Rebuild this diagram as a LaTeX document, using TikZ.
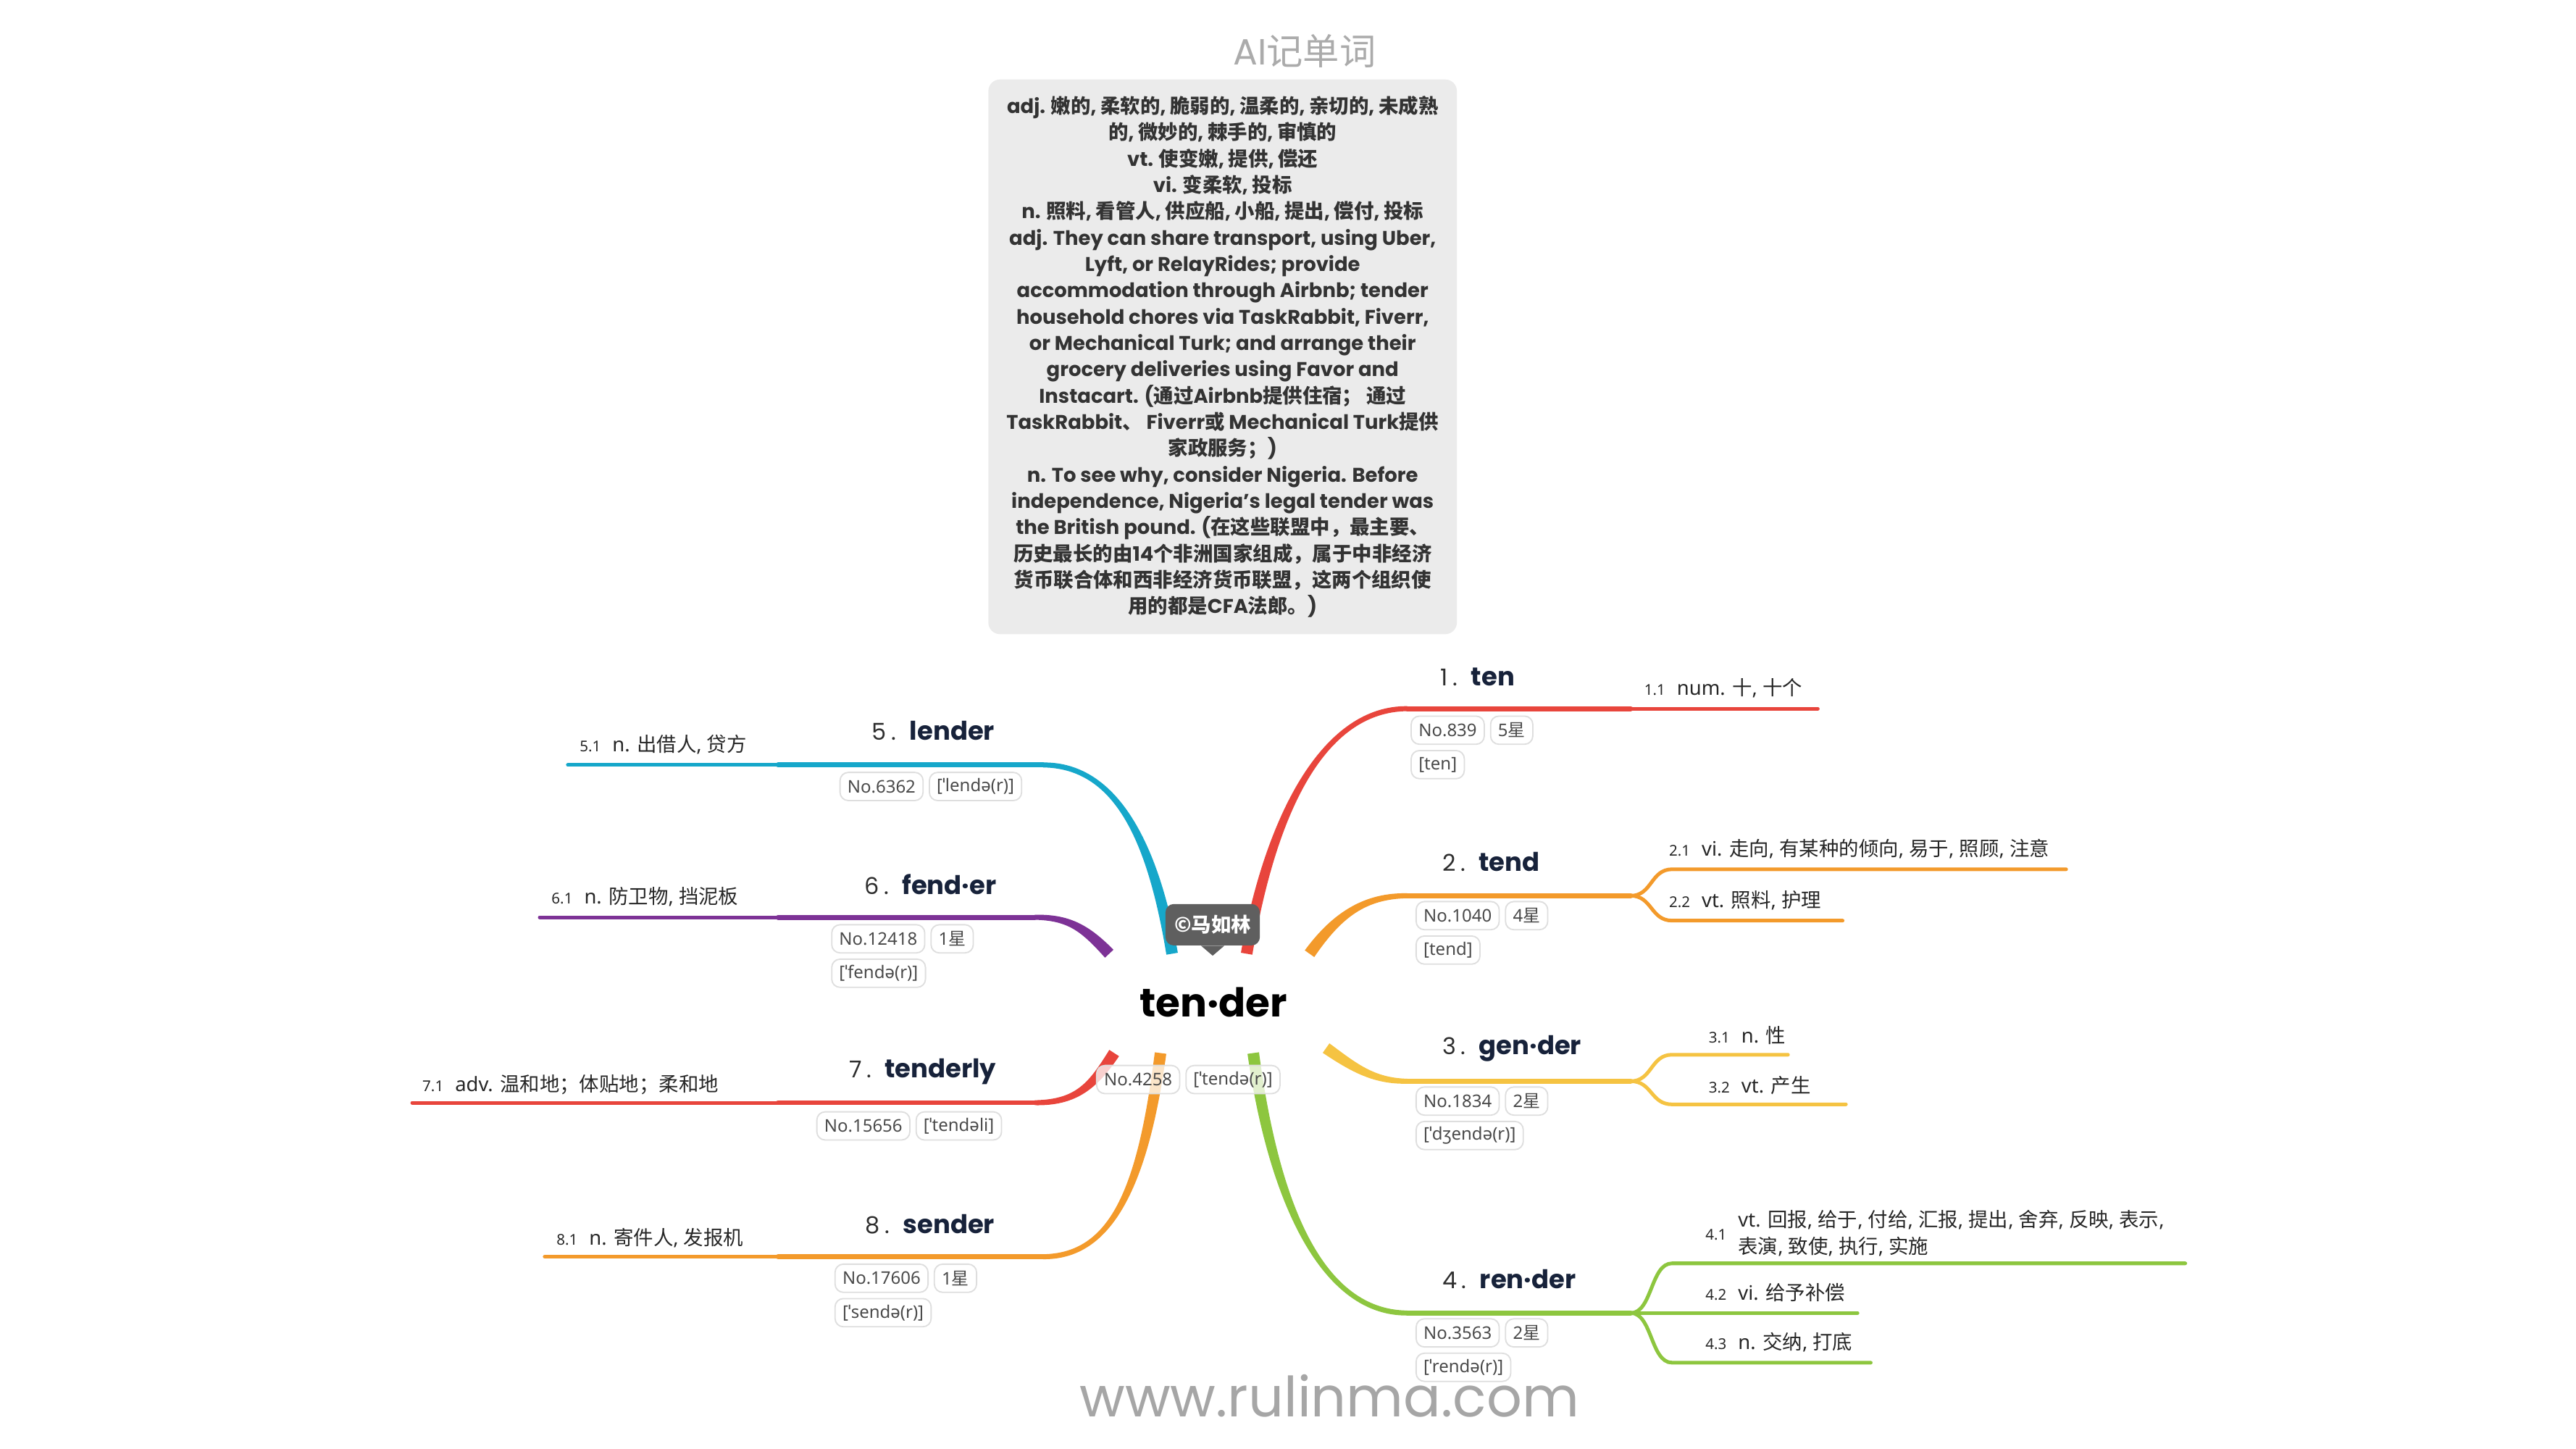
\documentclass[tikz,border=0pt]{standalone}
\usepackage{fontspec}
\setmainfont{Poppins}
\newfontfamily\cjk{Noto Sans CJK SC}
\newfontfamily\tagfont{Noto Sans}
\usetikzlibrary{positioning,calc}

% chinese characters go to the cjk font
\XeTeXinterchartokenstate=1
\makeatletter
\count@="3000 \loop \XeTeXcharclass\count@=1 \advance\count@ 1 \ifnum\count@<"3040 \repeat
\count@="4E00 \loop \XeTeXcharclass\count@=1 \advance\count@ 1 \ifnum\count@<"A000 \repeat
\count@="FF00 \loop \XeTeXcharclass\count@=1 \advance\count@ 1 \ifnum\count@<"FFF0 \repeat
\makeatother
\XeTeXinterchartoks 0 1 = {\begingroup\cjk}
\XeTeXinterchartoks 2 1 = {\begingroup\cjk}
\XeTeXinterchartoks 3 1 = {\begingroup\cjk}
\XeTeXinterchartoks 4095 1 = {\begingroup\cjk}
\XeTeXinterchartoks 1 0 = {\endgroup}
\XeTeXinterchartoks 1 2 = {\endgroup}
\XeTeXinterchartoks 1 3 = {\endgroup}
\XeTeXinterchartoks 1 4095 = {\endgroup}

\definecolor{brred}{HTML}{E8453C}
\definecolor{brorange}{HTML}{F39A2B}
\definecolor{bryellow}{HTML}{F5C342}
\definecolor{brgreen}{HTML}{8DC63F}
\definecolor{brcyan}{HTML}{16A7CA}
\definecolor{brpurple}{HTML}{7D3296}
\definecolor{wordink}{HTML}{17223A}
\definecolor{numink}{HTML}{2E2E2E}
\definecolor{subink}{HTML}{262626}
\definecolor{tagink}{HTML}{4A4A4A}
\definecolor{tagline}{HTML}{DEDEDE}
\definecolor{notefill}{HTML}{EBEBEB}
\definecolor{noteink}{HTML}{333333}
\definecolor{titleink}{HTML}{ABABAB}
\definecolor{markfill}{HTML}{5F5F5F}
\definecolor{siteink}{HTML}{A6A6A6}

\def\wordlabel#1#2{{\color{numink}\fontsize{14}{14}\selectfont#1\hspace{3pt}.}\hspace{8pt}{\bfseries\fontsize{15.5}{16}\selectfont#2}}
\def\sensenum#1{{\fontsize{9}{9}\selectfont#1}\hspace{7pt}}
\def\taper[#1](#2)(#3)(#4)(#5){\fill[#1] ($(#2)!3.5pt!90:(#3)$) .. controls ($(#3)!3pt!-90:(#2)$) and ($(#4)!2pt!90:(#5)$) .. ($(#5)!1.5pt!-90:(#4)$) -- ($(#5)!1.5pt!90:(#4)$) .. controls ($(#4)!2pt!-90:(#5)$) and ($(#3)!3pt!90:(#2)$) .. ($(#2)!3.5pt!-90:(#3)$) -- cycle;}

\tikzset{
	limb/.style={line width=3pt, line cap=round},
	twig/.style={line width=2.2pt, line cap=round},
	word/.style={anchor=base west, inner sep=0pt, text=wordink},
	sense/.style={anchor=base west, inner sep=0pt, text=subink, font=\tagfont\fontsize{12}{16}\selectfont},
	infotag/.style={anchor=west, draw=tagline, line width=0.8pt, rounded corners=5pt, fill=white, fill opacity=0.75, text opacity=1, text=tagink, font=\tagfont\fontsize{10.5}{12}\selectfont, inner xsep=4.5pt, inner ysep=0pt, minimum height=17pt},
	notebox/.style={fill=notefill, rounded corners=7pt, minimum width=283pt, minimum height=335pt, inner sep=0pt, align=center, text=noteink, font=\bfseries\fontsize{12}{15.9}\selectfont},
	markbox/.style={fill=markfill, rounded corners=5pt, minimum width=57pt, minimum height=25pt, inner sep=0pt, text=white, font=\cjk\bfseries\fontsize{12}{12}\selectfont},
}

\begin{document}
\begin{tikzpicture}[x=1pt,y=-1pt]
	%%%%% START %%%%%
	\useasboundingbox (0,0) rectangle (1556,875);
	
	\node[text=titleink, font=\fontsize{22}{22}\selectfont] (title) at (788,31) {AI记单词};
	
	\node[notebox] (note) at (738.5,215.5) {adj. 嫩的, 柔软的, 脆弱的, 温柔的, 亲切的, 未成熟\\
		的, 微妙的, 棘手的, 审慎的\\
		vt. 使变嫩, 提供, 偿还\\
		vi. 变柔软, 投标\\
		n. 照料, 看管人, 供应船, 小船, 提出, 偿付, 投标\\
		adj. They can share transport, using Uber,\\
		Lyft, or RelayRides; provide\\
		accommodation through Airbnb; tender\\
		household chores via TaskRabbit, Fiverr,\\
		or Mechanical Turk; and arrange their\\
		grocery deliveries using Favor and\\
		Instacart. (通过Airbnb提供住宿； 通过\\
		TaskRabbit、 Fiverr或 Mechanical Turk提供\\
		家政服务；)\\
		n. To see why, consider Nigeria. Before\\
		independence, Nigeria’s legal tender was\\
		the British pound. (在这些联盟中，最主要、\\
		历史最长的由14个非洲国家组成，属于中非经济\\
		货币联合体和西非经济货币联盟，这两个组织使\\
		用的都是CFA法郎。)};
	
	% 1 ten
	\coordinate (s1) at (753,576);
	\coordinate (j1) at (850,428);
	\coordinate (f1) at (985,428);
	\coordinate (e11) at (1098,428);
	\taper[brred](s1)(768,490)(800,428)(j1)
	\draw[limb, brred] (j1) -- (f1);
	\draw[twig, brred] (f1) -- (e11);
	
	% 2 tend
	\coordinate (s2) at (791,576);
	\coordinate (j2) at (850,541);
	\coordinate (f2) at (985,541);
	\coordinate (e21) at (1248,525);
	\coordinate (e22) at (1113,556);
	\taper[brorange](s2)(808,552)(825,541)(j2)
	\draw[limb, brorange] (j2) -- (f2);
	\draw[twig, brorange] (f2) .. controls (998,541) and (997,525) .. (1010,525) -- (e21);
	\draw[twig, brorange] (f2) .. controls (998,541) and (997,556) .. (1010,556) -- (e22);
	
	% 3 gen-der
	\coordinate (s3) at (801,633);
	\coordinate (j3) at (850,653);
	\coordinate (f3) at (985,653);
	\coordinate (e31) at (1080,637);
	\coordinate (e32) at (1115,667);
	\taper[bryellow](s3)(818,645)(830,653)(j3)
	\draw[limb, bryellow] (j3) -- (f3);
	\draw[twig, bryellow] (f3) .. controls (998,653) and (997,637) .. (1010,637) -- (e31);
	\draw[twig, bryellow] (f3) .. controls (998,653) and (997,667) .. (1010,667) -- (e32);
	
	% 4 ren-der
	\coordinate (s4) at (757,636);
	\coordinate (j4) at (850,793);
	\coordinate (f4) at (985,793);
	\coordinate (e41) at (1320,763);
	\coordinate (e42) at (1122,793);
	\coordinate (e43) at (1130,823);
	\taper[brgreen](s4)(770,730)(800,793)(j4)
	\draw[limb, brgreen] (j4) -- (f4);
	\draw[twig, brgreen] (f4) .. controls (998,793) and (997,763) .. (1010,763) -- (e41);
	\draw[twig, brgreen] (f4) -- (e42);
	\draw[twig, brgreen] (f4) .. controls (998,793) and (997,823) .. (1010,823) -- (e43);
	
	% 5 lender
	\coordinate (s5) at (708,576);
	\coordinate (j5) at (630,462);
	\coordinate (f5) at (470,462);
	\coordinate (e51) at (343,462);
	\taper[brcyan](s5)(695,500)(670,462)(j5)
	\draw[limb, brcyan] (j5) -- (f5);
	\draw[twig, brcyan] (f5) -- (e51);
	
	% 6 fend-er
	\coordinate (s6) at (670,576);
	\coordinate (j6) at (625,554);
	\coordinate (f6) at (470,554);
	\coordinate (e61) at (326,554);
	\taper[brpurple](s6)(655,560)(645,554)(j6)
	\draw[limb, brpurple] (j6) -- (f6);
	\draw[twig, brpurple] (f6) -- (e61);
	
	% 7 tenderly
	\coordinate (s7) at (673,636);
	\coordinate (j7) at (625,666);
	\coordinate (f7) at (470,666);
	\coordinate (e71) at (249,666);
	\taper[brred](s7)(660,656)(650,666)(j7)
	\draw[limb, brred] (j7) -- (f7);
	\draw[twig, brred] (f7) -- (e71);
	
	% 8 sender
	\coordinate (s8) at (701,636);
	\coordinate (j8) at (630,759);
	\coordinate (f8) at (470,759);
	\coordinate (e81) at (329,759);
	\taper[brorange](s8)(690,720)(670,759)(j8)
	\draw[limb, brorange] (j8) -- (f8);
	\draw[twig, brorange] (f8) -- (e81);
	
	% words
	\node[word] (w1) at (870,414) {\wordlabel{1}{ten}};
	\node[word] (w2) at (871,526) {\wordlabel{2}{tend}};
	\node[word] (w3) at (871,637) {\wordlabel{3}{gen·der}};
	\node[word] (w4) at (871,778) {\wordlabel{4}{ren·der}};
	\node[word, anchor=base east] (w5) at (601,447) {\wordlabel{5}{lender}};
	\node[word, anchor=base east] (w6) at (602,540) {\wordlabel{6}{fend·er}};
	\node[word, anchor=base east] (w7) at (602,651) {\wordlabel{7}{tenderly}};
	\node[word, anchor=base east] (w8) at (601,745) {\wordlabel{8}{sender}};
	
	% senses
	\node[sense] (l11) at (993,420) {\sensenum{1.1}num. 十, 十个};
	\node[sense] (l21) at (1008,517) {\sensenum{2.1}vi. 走向, 有某种的倾向, 易于, 照顾, 注意};
	\node[sense] (l22) at (1008,548) {\sensenum{2.2}vt. 照料, 护理};
	\node[sense] (l31) at (1032,630) {\sensenum{3.1}n. 性};
	\node[sense] (l32) at (1032,660) {\sensenum{3.2}vt. 产生};
	\node[sense, anchor=west] (l41) at (1030,746) {\sensenum{4.1}\begin{tabular}{@{}l@{}}vt. 回报, 给于, 付给, 汇报, 提出, 舍弃, 反映, 表示,\\表演, 致使, 执行, 实施\end{tabular}};
	\node[sense] (l42) at (1030,785) {\sensenum{4.2}vi. 给予补偿};
	\node[sense] (l43) at (1030,815) {\sensenum{4.3}n. 交纳, 打底};
	\node[sense] (l51) at (350,454) {\sensenum{5.1}n. 出借人, 贷方};
	\node[sense] (l61) at (333,546) {\sensenum{6.1}n. 防卫物, 挡泥板};
	\node[sense] (l71) at (255,659) {\sensenum{7.1}adv. 温和地；体贴地；柔和地};
	\node[sense] (l81) at (336,752) {\sensenum{8.1}n. 寄件人, 发报机};
	
	% tags
	\node[infotag] (t1a) at (852,441) {No.839};
	\node[infotag, right=3pt of t1a] (t1b) {5星};
	\node[infotag, below=3pt of t1a.south west, anchor=north west] (t1c) {[ten]};
	\node[infotag] (t2a) at (855,553) {No.1040};
	\node[infotag, right=3pt of t2a] (t2b) {4星};
	\node[infotag, below=3pt of t2a.south west, anchor=north west] (t2c) {[tend]};
	\node[infotag] (t3a) at (855,665) {No.1834};
	\node[infotag, right=3pt of t3a] (t3b) {2星};
	\node[infotag, below=3pt of t3a.south west, anchor=north west] (t3c) {[ˈdʒendə(r)]};
	\node[infotag] (t4a) at (855,805) {No.3563};
	\node[infotag, right=3pt of t4a] (t4b) {2星};
	\node[infotag, below=3pt of t4a.south west, anchor=north west] (t4c) {[ˈrendə(r)]};
	\node[infotag] (t5a) at (507,475) {No.6362};
	\node[infotag, right=3pt of t5a] (t5b) {[ˈlendə(r)]};
	\node[infotag] (t6a) at (502,567) {No.12418};
	\node[infotag, right=3pt of t6a] (t6b) {1星};
	\node[infotag, below=3pt of t6a.south west, anchor=north west] (t6c) {[ˈfendə(r)]};
	\node[infotag] (t7a) at (493,680) {No.15656};
	\node[infotag, right=3pt of t7a] (t7b) {[ˈtendəli]};
	\node[infotag] (t8a) at (504,772) {No.17606};
	\node[infotag, right=3pt of t8a] (t8b) {1星};
	\node[infotag, below=3pt of t8a.south west, anchor=north west] (t8c) {[ˈsendə(r)]};
	
	% centre
	\node[anchor=base, inner sep=0pt, font=\bfseries\fontsize{24}{24}\selectfont] (root) at (733,614) {ten·der};
	\node[infotag] (t0a) at (662,652) {No.4258};
	\node[infotag, right=3pt of t0a] (t0b) {[ˈtendə(r)]};
	\node[markbox] (mark) at (732.5,558.5) {©马如林};
	\fill[markfill] ([xshift=-7pt]mark.south) -- ([yshift=-6pt]mark.south) -- ([xshift=7pt]mark.south) -- cycle;
	
	\node[text=siteink, font=\fontsize{33.5}{34}\selectfont] (site) at (803,843) {www.rulinma.com};
	%%%%% END %%%%%
\end{tikzpicture}
\end{document}
